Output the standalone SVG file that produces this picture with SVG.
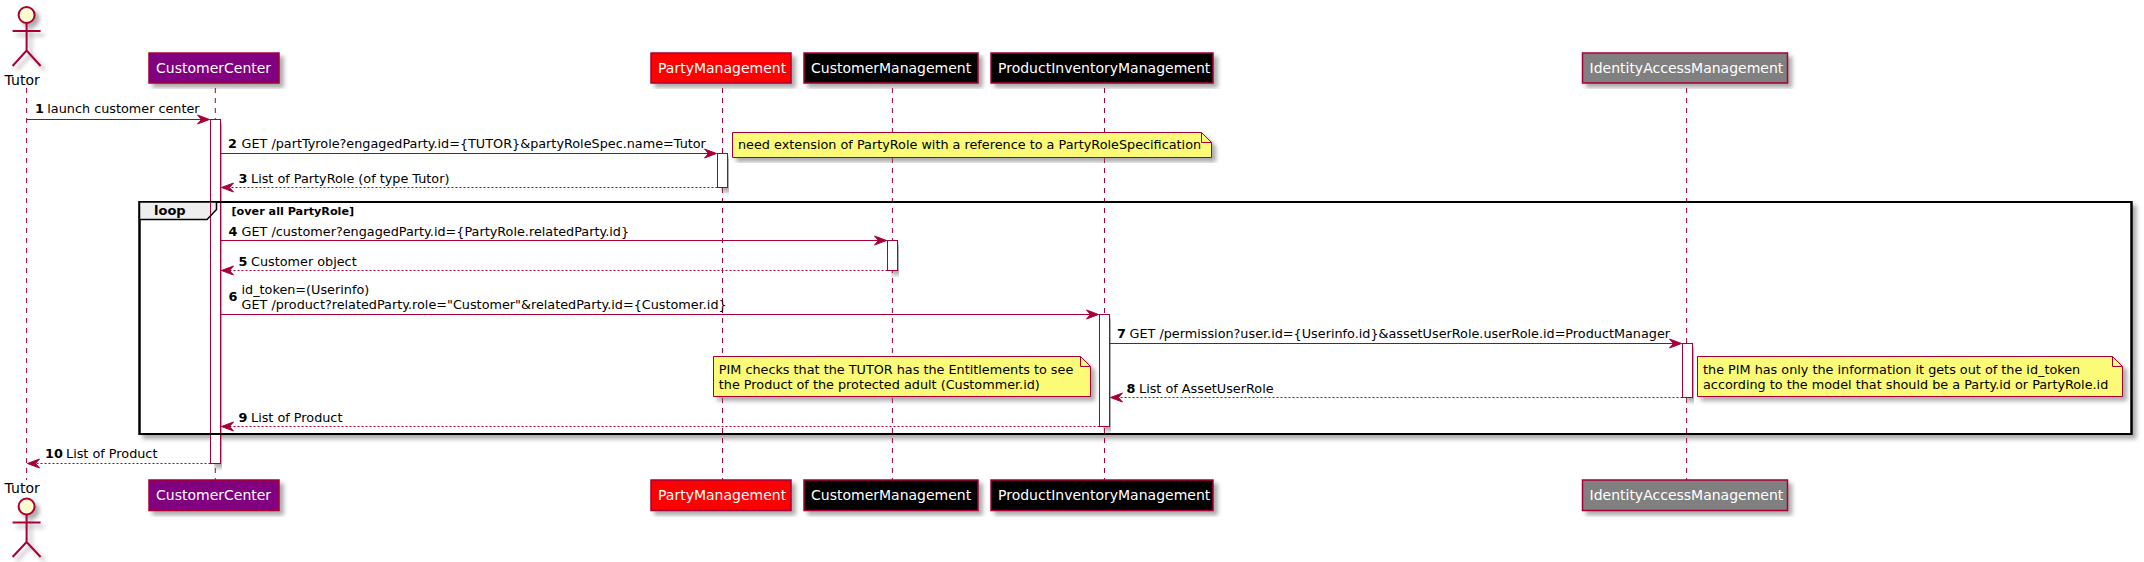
<svg xmlns="http://www.w3.org/2000/svg" width="2144" height="562" viewBox="0 0 2144 562">
<defs>
<filter id="shadow" x="-5%" y="-10%" width="115%" height="130%" color-interpolation-filters="sRGB">
<feGaussianBlur in="SourceAlpha" stdDeviation="2" result="b"/>
<feOffset in="b" dx="4" dy="4" result="o"/>
<feColorMatrix in="o" type="matrix" values="0 0 0 0 0.4 0 0 0 0 0.4 0 0 0 0 0.4 0 0 0 0.55 0" result="c"/>
<feMerge><feMergeNode in="c"/><feMergeNode in="SourceGraphic"/></feMerge>
</filter>
<filter id="shadowWide" filterUnits="userSpaceOnUse" x="120" y="190" width="2024" height="262" color-interpolation-filters="sRGB">
<feGaussianBlur in="SourceAlpha" stdDeviation="2" result="b"/>
<feOffset in="b" dx="4" dy="4" result="o"/>
<feColorMatrix in="o" type="matrix" values="0 0 0 0 0.4 0 0 0 0 0.4 0 0 0 0 0.4 0 0 0 0.55 0" result="c"/>
<feMerge><feMergeNode in="c"/><feMergeNode in="SourceGraphic"/></feMerge>
</filter>
<filter id="shadowUser" filterUnits="userSpaceOnUse" x="0" y="0" width="60" height="562" color-interpolation-filters="sRGB">
<feGaussianBlur in="SourceAlpha" stdDeviation="2" result="b"/>
<feOffset in="b" dx="4" dy="4" result="o"/>
<feColorMatrix in="o" type="matrix" values="0 0 0 0 0.4 0 0 0 0 0.4 0 0 0 0 0.4 0 0 0 0.55 0" result="c"/>
<feMerge><feMergeNode in="c"/><feMergeNode in="SourceGraphic"/></feMerge>
</filter>
<marker id="arrow" markerUnits="userSpaceOnUse" markerWidth="14" markerHeight="12" refX="13" refY="6" orient="auto" overflow="visible">
<path d="M1,1.5 L13,6 L1,10.5 L5,6 Z" fill="#A80036" stroke="#A80036" stroke-width="1"/>
</marker>
<style>
text{font-family:"DejaVu Sans",sans-serif;font-size:12.8px;fill:#000}
.p{fill:#fff;font-size:14px}
.a{font-size:14px}
.n{font-weight:bold}
.box{stroke:#A80036;stroke-width:1.5}
.life{stroke:#A80036;stroke-width:1;stroke-dasharray:5,5;fill:none}
.act{fill:#fff;stroke:#A80036;stroke-width:1}
.actor{fill:none;stroke:#A80036;stroke-width:2}
.head{fill:#FEFECE;stroke:#A80036;stroke-width:2}
.note{fill:#FBFB77;stroke:#A80036;stroke-width:1}
.fold{fill:#FBFB77;stroke:#A80036;stroke-width:1}
.msg{stroke:#A80036;stroke-width:1;fill:none;marker-end:url(#arrow)}
.ret{stroke-dasharray:2,2}
</style>
</defs>
<rect width="2144" height="562" fill="#fff"/>

<g id="loop-background">
<rect x="139.5" y="202" width="1992" height="232" fill="#fff" stroke="#000" stroke-width="2" filter="url(#shadowWide)"/>
</g>

<g id="lifelines">
<line class="life" x1="26.6" y1="88" x2="26.6" y2="480"/>
<line class="life" x1="215.3" y1="88" x2="215.3" y2="480"/>
<line class="life" x1="722.5" y1="88" x2="722.5" y2="480"/>
<line class="life" x1="892.4" y1="88" x2="892.4" y2="480"/>
<line class="life" x1="1104.5" y1="88" x2="1104.5" y2="480"/>
<line class="life" x1="1686.6" y1="88" x2="1686.6" y2="480"/>
</g>

<g id="Tutor">
<g filter="url(#shadowUser)">
<circle class="head" cx="26.6" cy="15" r="8"/>
<path class="actor" d="M26.6,23 V50.5 M12.6,31 H40.6 M12.6,66 L26.6,50.5 L40.6,66"/>
<circle class="head" cx="26.6" cy="506.5" r="8"/>
<path class="actor" d="M26.6,514.5 V542 M12.6,522.5 H40.6 M12.6,557 L26.6,542 L40.6,557"/>
</g>
<text class="a" x="4.6" y="85">Tutor</text>
<text class="a" x="4.6" y="492.5">Tutor</text>
</g>

<g id="CustomerCenter">
<rect class="box" x="149" y="53" width="130" height="30" fill="#800080" filter="url(#shadow)"/>
<text class="p" x="156" y="73">CustomerCenter</text>
<rect class="box" x="149" y="480" width="130" height="30.5" fill="#800080" filter="url(#shadow)"/>
<text class="p" x="156" y="500">CustomerCenter</text>
</g>

<g id="PartyManagement">
<rect class="box" x="651" y="53" width="140" height="30" fill="#FF0000" filter="url(#shadow)"/>
<text class="p" x="658" y="73">PartyManagement</text>
<rect class="box" x="651" y="480" width="140" height="30.5" fill="#FF0000" filter="url(#shadow)"/>
<text class="p" x="658" y="500">PartyManagement</text>
</g>

<g id="CustomerManagement">
<rect class="box" x="804" y="53" width="174" height="30" fill="#000" filter="url(#shadow)"/>
<text class="p" x="811" y="73">CustomerManagement</text>
<rect class="box" x="804" y="480" width="174" height="30.5" fill="#000" filter="url(#shadow)"/>
<text class="p" x="811" y="500">CustomerManagement</text>
</g>

<g id="ProductInventoryManagement">
<rect class="box" x="991" y="53" width="222" height="30" fill="#000" filter="url(#shadow)"/>
<text class="p" x="998" y="73">ProductInventoryManagement</text>
<rect class="box" x="991" y="480" width="222" height="30.5" fill="#000" filter="url(#shadow)"/>
<text class="p" x="998" y="500">ProductInventoryManagement</text>
</g>

<g id="IdentityAccessManagement">
<rect class="box" x="1582.5" y="53" width="205" height="30" fill="#808080" filter="url(#shadow)"/>
<text class="p" x="1589.5" y="73">IdentityAccessManagement</text>
<rect class="box" x="1582.5" y="480" width="205" height="30.5" fill="#808080" filter="url(#shadow)"/>
<text class="p" x="1589.5" y="500">IdentityAccessManagement</text>
</g>

<g id="activations">
<rect class="act" x="210.5" y="119.5" width="10" height="344" filter="url(#shadow)"/>
<rect class="act" x="717.5" y="153.5" width="10" height="34" filter="url(#shadow)"/>
<rect class="act" x="887.5" y="240.5" width="10" height="30" filter="url(#shadow)"/>
<rect class="act" x="1099.5" y="314.5" width="10" height="112" filter="url(#shadow)"/>
<rect class="act" x="1682.5" y="343.5" width="10" height="54" filter="url(#shadow)"/>
</g>

<g id="loop">
<rect x="139.5" y="202" width="1992" height="232" fill="none" stroke="#000" stroke-width="2"/>
<path d="M139.5,202 H216.5 V209.5 L207,219.5 H139.5 Z" fill="#EEEEEE" stroke="#000" stroke-width="1.5"/>
<line x1="210.5" y1="203" x2="210.5" y2="215.5" stroke="#A80036" stroke-width="1"/>
<text class="n" x="154" y="215" style="font-size:13px">loop</text>
<text class="n" x="231.5" y="214.5" style="font-size:11.2px">[over all PartyRole]</text>
</g>

<g id="connectors">
<line class="msg" x1="26.6" y1="119.5" x2="209.5" y2="119.5"/>
<text class="n" x="35" y="113">1</text><text x="47.3" y="113">launch customer center</text>

<line class="msg" x1="220.5" y1="153.5" x2="716.5" y2="153.5"/>
<text class="n" x="228" y="147.5">2</text><text x="241.5" y="147.5">GET /partTyrole?engagedParty.id={TUTOR}&amp;partyRoleSpec.name=Tutor</text>

<line class="msg ret" x1="717.5" y1="187.5" x2="221.5" y2="187.5"/>
<text class="n" x="238.5" y="182.5">3</text><text x="251" y="182.5">List of PartyRole (of type Tutor)</text>

<line class="msg" x1="220.5" y1="240.5" x2="886.5" y2="240.5"/>
<text class="n" x="228.5" y="235.5">4</text><text x="241.5" y="235.5">GET /customer?engagedParty.id={PartyRole.relatedParty.id}</text>

<line class="msg ret" x1="887.5" y1="270.5" x2="221.5" y2="270.5"/>
<text class="n" x="238.5" y="265.5">5</text><text x="251" y="265.5">Customer object</text>

<line class="msg" x1="220.5" y1="314.5" x2="1098.5" y2="314.5"/>
<text class="n" x="228.5" y="301">6</text><text x="241.5" y="293.5">id_token=(Userinfo)</text><text x="241.5" y="308.5">GET /product?relatedParty.role="Customer"&amp;relatedParty.id={Customer.id}</text>

<line class="msg" x1="1109.5" y1="343.5" x2="1681.5" y2="343.5"/>
<text class="n" x="1117" y="337.5">7</text><text x="1129.5" y="337.5">GET /permission?user.id={Userinfo.id}&amp;assetUserRole.userRole.id=ProductManager</text>

<line class="msg ret" x1="1682.5" y1="397.5" x2="1110.5" y2="397.5"/>
<text class="n" x="1126.5" y="392.5">8</text><text x="1139" y="392.5">List of AssetUserRole</text>

<line class="msg ret" x1="1099.5" y1="426.5" x2="221.5" y2="426.5"/>
<text class="n" x="238.5" y="421.5">9</text><text x="251" y="421.5">List of Product</text>

<line class="msg ret" x1="210.5" y1="463.5" x2="27.5" y2="463.5"/>
<text class="n" x="45" y="457.5">10</text><text x="66" y="457.5">List of Product</text>
</g>

<g id="note-partyrole">
<path class="note" d="M732.5,132.5 H1201.5 L1211.5,142.5 V157.5 H732.5 Z" filter="url(#shadow)"/>
<path class="fold" d="M1201.5,132.5 V142.5 H1211.5 Z"/>
<text x="738" y="148.5">need extension of PartyRole with a reference to a PartyRoleSpecification</text>
</g>

<g id="note-pim">
<path class="note" d="M713.5,356.5 H1080.5 L1090.5,366.5 V396.5 H713.5 Z" filter="url(#shadow)"/>
<path class="fold" d="M1080.5,356.5 V366.5 H1090.5 Z"/>
<text x="718.8" y="373.5">PIM checks that the TUTOR has the Entitlements to see</text>
<text x="718.8" y="388.5">the Product of the protected adult (Custommer.id)</text>
</g>

<g id="note-token">
<path class="note" d="M1697.5,356.5 H2112.5 L2122.5,366.5 V396.5 H1697.5 Z" filter="url(#shadow)"/>
<path class="fold" d="M2112.5,356.5 V366.5 H2122.5 Z"/>
<text x="1703" y="373.5">the PIM has only the information it gets out of the id_token</text>
<text x="1703" y="388.5">according to the model that should be a Party.id or PartyRole.id</text>
</g>
</svg>
